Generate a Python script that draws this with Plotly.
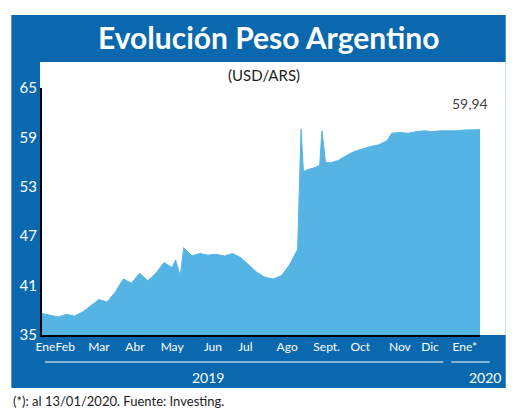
import plotly.graph_objects as go

dates = [
    "2019-01-01", "2019-01-08", "2019-01-15", "2019-01-22", "2019-01-29",
    "2019-02-05", "2019-02-12", "2019-02-19", "2019-02-26", "2019-03-05",
    "2019-03-12", "2019-03-19", "2019-03-26", "2019-04-02", "2019-04-09",
    "2019-04-16", "2019-04-23", "2019-04-26", "2019-04-30", "2019-05-03",
    "2019-05-10", "2019-05-17", "2019-05-24", "2019-05-31", "2019-06-07",
    "2019-06-14", "2019-06-21", "2019-06-28", "2019-07-05", "2019-07-12",
    "2019-07-19", "2019-07-26", "2019-08-02", "2019-08-09", "2019-08-12",
    "2019-08-14", "2019-08-16", "2019-08-23", "2019-08-28", "2019-08-30",
    "2019-09-02", "2019-09-06", "2019-09-13", "2019-09-20", "2019-09-27",
    "2019-10-04", "2019-10-11", "2019-10-18", "2019-10-25", "2019-10-29",
    "2019-11-05", "2019-11-12", "2019-11-19", "2019-11-26", "2019-12-03",
    "2019-12-10", "2019-12-17", "2019-12-24", "2019-12-31", "2020-01-07",
    "2020-01-13",
]
values = [
    37.6, 37.4, 37.2, 37.5, 37.3,
    37.8, 38.5, 39.3, 39.0, 40.2,
    41.8, 41.3, 42.5, 41.6, 42.5,
    43.8, 43.2, 44.1, 42.2, 45.6,
    44.6, 44.9, 44.7, 44.8, 44.6,
    44.9, 44.4, 43.5, 42.6, 42.0,
    41.8, 42.2, 43.5, 45.4, 60.0,
    54.8, 55.0, 55.3, 55.6, 59.8,
    56.0, 55.9, 56.2, 56.8, 57.3,
    57.6, 57.9, 58.1, 58.6, 59.5,
    59.6, 59.5, 59.7, 59.8, 59.7,
    59.8, 59.8, 59.8, 59.9, 59.9,
    59.94,
]
month_labels = ["Ene", "Feb", "Mar", "Abr", "May", "Jun", "Jul", "Ago",
                "Sept.", "Oct", "Nov", "Dic", "Ene*"]
month_ticks = ["2019-01-04", "2019-01-21", "2019-02-19", "2019-03-22", "2019-04-23",
               "2019-05-28", "2019-06-25", "2019-07-31", "2019-09-03", "2019-10-02",
               "2019-11-05", "2019-12-01", "2019-12-31"]
y_ticks = [35, 41, 47, 53, 59, 65]

DARK = "#0a69ae"
LIGHT = "#55b4e4"

OFF = 8  # page margin of the browser
# plot area in reference pixels: x 37..480, y 88..335
L, R, T, B = 37, 480, 88, 335
W, H = R - L, B - T


def px(x):
    return (x - L) / W


def py(y):
    return (B - y) / H


fig = go.Figure(go.Scatter(
    x=dates, y=values, mode="lines", fill="tozeroy",
    line=dict(color=LIGHT, width=1), fillcolor=LIGHT, hoverinfo="x+y",
))

shapes = [
    dict(type="rect", xref="paper", yref="paper", x0=px(6), x1=px(506), y0=py(388), y1=py(15),
         fillcolor=DARK, line_width=0, layer="below"),
    dict(type="rect", xref="paper", yref="paper", x0=px(35), x1=px(506), y0=py(335), y1=py(62),
         fillcolor="white", line_width=0, layer="below"),
    dict(type="line", xref="paper", yref="paper", x0=px(40), x1=px(443), y0=py(362), y1=py(362),
         line=dict(color="white", width=1)),
    dict(type="line", xref="paper", yref="paper", x0=px(451), x1=px(490), y0=py(362), y1=py(362),
         line=dict(color="white", width=1)),
]

annotations = [
    dict(text="<b>Evolución Peso Argentino</b>", x=px(266), y=py(37), font=dict(size=30, color="white")),
    dict(text="(USD/ARS)", x=px(262), y=py(75), font=dict(size=15, color="#222")),
    dict(text="59,94", x=px(470), y=py(103), font=dict(size=14, color="#444")),
    dict(text="2019", x=px(205), y=py(377), font=dict(size=14, color="white")),
    dict(text="2020", x=px(485), y=py(377), font=dict(size=14, color="white")),
    dict(text="(*): al 13/01/2020. Fuente: Investing.", x=px(6), y=py(401), xanchor="left",
         font=dict(size=13, color="#222")),
]
for a in annotations:
    a.update(xref="paper", yref="paper", showarrow=False)
    a.setdefault("xanchor", "center")
    a["yanchor"] = "middle"
    a["font"].setdefault("family", "Lato")

fig.update_layout(
    width=520, height=413,
    margin=dict(l=L - OFF, r=520 - R + OFF, t=T - OFF, b=413 - B + OFF),
    paper_bgcolor="white", plot_bgcolor="rgba(0,0,0,0)",
    showlegend=False, shapes=shapes, annotations=annotations,
    font=dict(family="Lato", color="white", size=14),
    xaxis=dict(range=["2019-01-01", "2020-01-13"], tickvals=month_ticks, ticktext=month_labels,
               showgrid=False, ticks="", showline=True, linecolor="black", linewidth=2,
               tickfont=dict(size=12, color="white"), tickangle=0),
    yaxis=dict(range=[35, 65], tickvals=y_ticks, showgrid=False, ticks="", showline=True,
               linecolor="black", linewidth=2, tickfont=dict(size=15, color="white")),
)

fig.write_html("out.html")
